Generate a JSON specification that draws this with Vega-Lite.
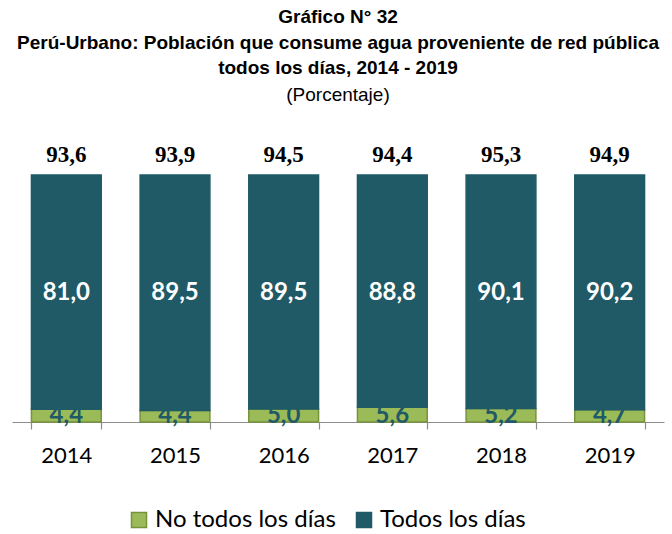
{
  "$schema": "https://vega.github.io/schema/vega-lite/v6.json",
  "autosize": {"type": "none"},
  "width": 652,
  "height": 247,
  "padding": {"left": 12, "top": 175, "right": 8, "bottom": 112},
  "background": "white",
  "config": {
    "view": {"stroke": null},
    "locale": {"number": {"decimal": ",", "thousands": ".", "grouping": [3], "currency": ["", ""]}}
  },
  "title": {
    "text": ["Gráfico N° 32", "Perú-Urbano: Población que consume agua proveniente de red pública", "todos los días, 2014 - 2019"],
    "subtitle": "(Porcentaje)",
    "anchor": "middle",
    "font": "Liberation Sans",
    "fontSize": 19,
    "fontWeight": "bold",
    "color": "black",
    "lineHeight": 25.5,
    "subtitleFont": "Liberation Sans",
    "subtitleFontSize": 19,
    "subtitleColor": "black",
    "subtitlePadding": 8,
    "offset": 39
  },
  "datasets": {
    "main": [
      {"year": "2014", "serie": "No todos los días", "value": 4.4},
      {"year": "2014", "serie": "Todos los días", "value": 81.0},
      {"year": "2015", "serie": "No todos los días", "value": 4.4},
      {"year": "2015", "serie": "Todos los días", "value": 89.5},
      {"year": "2016", "serie": "No todos los días", "value": 5.0},
      {"year": "2016", "serie": "Todos los días", "value": 89.5},
      {"year": "2017", "serie": "No todos los días", "value": 5.6},
      {"year": "2017", "serie": "Todos los días", "value": 88.8},
      {"year": "2018", "serie": "No todos los días", "value": 5.2},
      {"year": "2018", "serie": "Todos los días", "value": 90.1},
      {"year": "2019", "serie": "No todos los días", "value": 4.7},
      {"year": "2019", "serie": "Todos los días", "value": 90.2}
    ],
    "totals": [
      {"year": "2014", "total": 93.6},
      {"year": "2015", "total": 93.9},
      {"year": "2016", "total": 94.5},
      {"year": "2017", "total": 94.4},
      {"year": "2018", "total": 95.3},
      {"year": "2019", "total": 94.9}
    ]
  },
  "encoding": {
    "x": {
      "field": "year",
      "type": "nominal",
      "scale": {"paddingInner": 0.358, "paddingOuter": 0.179},
      "axis": {
        "title": null,
        "labelAngle": 0,
        "labelFont": "Lato",
        "labelFontSize": 22,
        "labelColor": "black",
        "labelPadding": 16,
        "tickBand": "extent",
        "tickSize": 7,
        "tickColor": "#8c8c8c",
        "domainColor": "#8c8c8c",
        "domainWidth": 1.2,
        "tickWidth": 1.2
      }
    }
  },
  "layer": [
    {
      "data": {"name": "main"},
      "transform": [
        {"stack": "value", "groupby": ["year"], "sort": [{"field": "serie", "order": "ascending"}], "offset": "normalize", "as": ["v0", "v1"]}
      ],
      "layer": [
        {
          "mark": {"type": "bar", "strokeWidth": 1.5},
          "encoding": {
            "y": {"field": "v0", "type": "quantitative", "scale": {"domain": [0, 1], "nice": false}, "axis": null},
            "y2": {"field": "v1"},
            "fill": {
              "field": "serie", "type": "nominal",
              "scale": {"domain": ["No todos los días", "Todos los días"], "range": ["#9BBB59", "#1F5A66"]},
              "legend": {
                "title": null, "orient": "none", "legendX": 115, "legendY": 333, "direction": "horizontal",
                "symbolType": "square", "symbolSize": 225, "symbolStrokeWidth": 1.5,
                "labelFont": "Lato", "labelFontSize": 24, "labelColor": "black", "labelLimit": 400,
                "columnPadding": 16, "labelOffset": 4
              }
            },
            "stroke": {
              "field": "serie", "type": "nominal",
              "scale": {"domain": ["No todos los días", "Todos los días"], "range": ["#77933C", "#1F5A66"]},
              "legend": {
                "title": null, "orient": "none", "legendX": 115, "legendY": 333, "direction": "horizontal",
                "symbolType": "square", "symbolSize": 225, "symbolStrokeWidth": 1.5,
                "labelFont": "Lato", "labelFontSize": 24, "labelColor": "black", "labelLimit": 400,
                "columnPadding": 16, "labelOffset": 4
              }
            }
          }
        },
        {
          "transform": [{"filter": "datum.serie === 'Todos los días'"}],
          "mark": {"type": "text", "font": "Lato", "fontSize": 24, "fontWeight": "bold", "baseline": "middle", "dy": 118, "color": "white"},
          "encoding": {
            "y": {"field": "v1", "type": "quantitative"},
            "text": {"field": "value", "type": "quantitative", "format": ".1f"}
          }
        },
        {
          "transform": [{"filter": "datum.serie === 'No todos los días'"}],
          "mark": {"type": "text", "font": "Lato", "fontSize": 24, "fontWeight": "bold", "baseline": "middle", "dy": -6, "color": "#1F5A66"},
          "encoding": {
            "y": {"field": "v0", "type": "quantitative"},
            "text": {"field": "value", "type": "quantitative", "format": ".1f"}
          }
        }
      ]
    },
    {
      "data": {"name": "totals"},
      "mark": {"type": "text", "font": "Liberation Serif", "fontSize": 23, "fontWeight": "bold", "baseline": "alphabetic", "dy": -13, "color": "black"},
      "encoding": {
        "y": {"datum": 1, "type": "quantitative"},
        "text": {"field": "total", "type": "quantitative", "format": ".1f"}
      }
    }
  ]
}
